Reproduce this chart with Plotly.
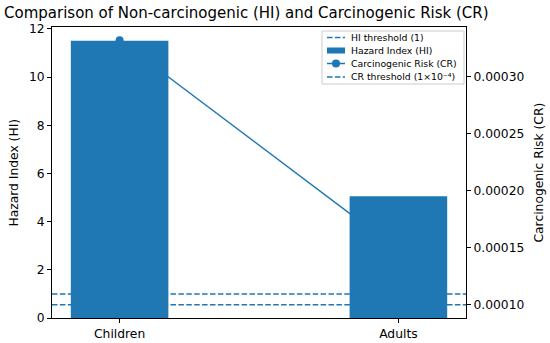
import plotly.graph_objects as go

categories = ["Children", "Adults"]
hazard_index = [11.5, 5.05]
carcinogenic_risk = [0.000332, 0.000148]
hi_threshold = 1
cr_threshold = 1e-4
left_ticks = [0, 2, 4, 6, 8, 10, 12]
right_ticks = [0.00010, 0.00015, 0.00020, 0.00025, 0.00030]
legend_labels = ["HI threshold (1)", "Hazard Index (HI)", "Carcinogenic Risk (CR)",
                 "CR threshold (1×10⁻⁴)"]

blue = "#1f77b4"
font = "DejaVu Sans"
dash = "5.5px,2.4px"
xpos = list(range(len(categories)))

W, H = 550, 343
L, R, T, B = 52, 84, 27, 25
PW, PH = W - L - R, H - T - B


def px(x):
    return (x - L) / PW


def py(y):
    return (H - B - y) / PH


fig = go.Figure()

fig.add_trace(go.Scatter(x=xpos, y=carcinogenic_risk, mode="lines+markers",
                         name=legend_labels[2], line=dict(color=blue, width=1.5),
                         marker=dict(size=8, color=blue), yaxis="y", showlegend=False))
fig.add_trace(go.Bar(x=xpos, y=hazard_index, name=legend_labels[1], width=0.35,
                     marker=dict(color=blue, line=dict(width=0)), yaxis="y2",
                     showlegend=False))

fig.add_shape(type="line", xref="paper", x0=0, x1=1, yref="y2", y0=hi_threshold, y1=hi_threshold,
              line=dict(color=blue, dash=dash, width=1.5), layer="below")
fig.add_shape(type="line", xref="paper", x0=0, x1=1, yref="y", y0=cr_threshold, y1=cr_threshold,
              line=dict(color=blue, dash=dash, width=1.5), layer="below")

# custom compact legend (matplotlib style)
box_l, box_r, box_t, box_b = 322, 464, 31, 84
fig.add_shape(type="rect", xref="paper", yref="paper", x0=px(box_l), x1=px(box_r),
              y0=py(box_b), y1=py(box_t), line=dict(color="#cccccc", width=1),
              fillcolor="rgba(255,255,255,0.85)", layer="above")
rows = [37.5, 50.5, 63.5, 77]
g0, g1, tx = 327, 345, 350
for i, (ry, lab) in enumerate(zip(rows, legend_labels)):
    if i in (0, 3):
        fig.add_shape(type="line", xref="paper", yref="paper", x0=px(g0), x1=px(g1),
                      y0=py(ry), y1=py(ry), line=dict(color=blue, width=1.5, dash=dash),
                      layer="above")
    elif i == 1:
        fig.add_shape(type="rect", xref="paper", yref="paper", x0=px(g0), x1=px(g1),
                      y0=py(ry + 3), y1=py(ry - 3), line=dict(width=0), fillcolor=blue,
                      layer="above")
    else:
        fig.add_shape(type="line", xref="paper", yref="paper", x0=px(g0), x1=px(g1),
                      y0=py(ry), y1=py(ry), line=dict(color=blue, width=1.5), layer="above")
        fig.add_shape(type="circle", xref="paper", yref="paper", x0=px(336 - 4), x1=px(336 + 4),
                      y0=py(ry + 4), y1=py(ry - 4), line=dict(width=0), fillcolor=blue,
                      layer="above")
    fig.add_annotation(text=lab, xref="paper", yref="paper", x=px(tx), y=py(ry),
                       xanchor="left", yanchor="middle", showarrow=False, borderpad=0,
                       font=dict(size=9.3, family=font, color="black"))

# axis titles
fig.add_annotation(text="Hazard Index (HI)", xref="paper", yref="paper", x=px(13), y=0.5,
                   textangle=-90, showarrow=False, xanchor="center", yanchor="middle",
                   font=dict(size=12.3, family=font, color="black"))
fig.add_annotation(text="Carcinogenic Risk (CR)", xref="paper", yref="paper", x=px(538), y=0.5,
                   textangle=-90, showarrow=False, xanchor="center", yanchor="middle",
                   font=dict(size=12.3, family=font, color="black"))

axis_common = dict(showline=True, linecolor="black", linewidth=1, ticks="outside",
                   ticklen=4, tickcolor="black", showgrid=False, zeroline=False,
                   automargin=False, tickfont=dict(size=12.3, family=font, color="black"))

fig.update_layout(
    width=W, height=H,
    margin=dict(l=L, r=R, t=T, b=B, autoexpand=False),
    paper_bgcolor="white", plot_bgcolor="white",
    font=dict(family=font, size=12.3, color="black"),
    title=dict(text="Comparison of Non-carcinogenic (HI) and Carcinogenic Risk (CR)",
               xref="container", x=0.0, xanchor="left", y=0.962, yanchor="middle",
               pad=dict(l=4, r=0, t=0, b=0),
               font=dict(size=15, family=font, color="black")),
    showlegend=False,
    xaxis=dict(tickmode="array", tickvals=xpos, ticktext=categories,
               range=[-0.2425, 1.2425], mirror=True, **axis_common),
    yaxis=dict(side="right", range=[0.0000884, 0.0003436], tickvals=right_ticks,
               tickformat=".5f", **axis_common),
    yaxis2=dict(side="left", overlaying="y", range=[0, 12.075], tickvals=left_ticks,
                **axis_common),
)

fig.write_html("out.html", config={"displayModeBar": False},
               post_script="document.body.style.margin='0';")
